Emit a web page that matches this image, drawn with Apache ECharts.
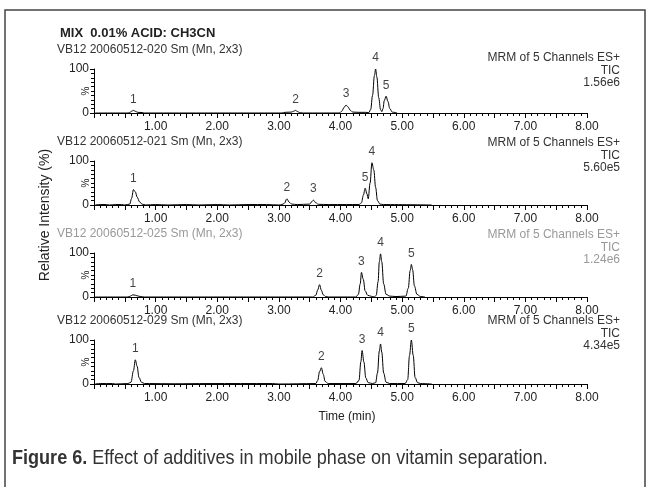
<!DOCTYPE html>
<html lang="en">
<head>
<meta charset="UTF-8">
<title>Figure 6</title>
<script src="https://cdn.jsdelivr.net/npm/echarts@6/dist/echarts.min.js"></script>
<style>
  html, body { margin: 0; background: #fff; }
  #main { width: 648px; height: 487px; }
</style>
</head>
<body>
<div id="main"></div>
<script>
// chromatogram traces, [time (min), relative intensity (%)]
var trace1 = [[0.02,0],[0.55,0],[0.58,1],[0.61,4],[0.64,6],[0.67,4],[0.71,1.5],[0.78,1],[0.82,0],
  [3.05,0],[3.1,1.5],[3.2,2],[3.24,4],[3.27,6],[3.3,3.5],[3.34,0.5],[3.4,0],
  [3.98,0],[4.02,4],[4.06,13],[4.09,18],[4.12,14],[4.16,6],[4.2,2],[4.3,1.5],[4.4,1.5],[4.46,1],
  [4.49,8],[4.52,40],[4.55,85],[4.57,100],[4.59,82],[4.62,35],[4.65,8],[4.67,3],
  [4.69,10],[4.71,28],[4.74,38],[4.77,26],[4.8,10],[4.84,2],[4.92,0]];
var trace2 = [[0.02,0],[0.1,1],[0.2,1],[0.25,0],[0.35,1],[0.45,1],[0.5,0],
  [0.58,2],[0.61,15],[0.64,35],[0.67,30],[0.7,18],[0.74,7],[0.78,2],[0.84,0],
  [1.0,1],[1.2,0],[1.5,1],[1.7,0],[2.0,1],[2.2,0],[2.5,1],[2.8,1],[3.0,0],
  [3.05,1],[3.09,4],[3.13,14],[3.17,6],[3.21,2],[3.3,1],
  [3.5,2],[3.53,7],[3.56,11],[3.6,5],[3.64,1.5],[3.8,1],[4.1,1],
  [4.3,1],[4.34,5],[4.37,22],[4.4,38],[4.43,25],[4.45,14],[4.48,50],[4.51,96],[4.54,80],[4.57,40],[4.6,10],[4.64,2],[4.7,1],[5.48,0]];
var trace3 = [[0.02,0],[0.55,0],[0.59,2],[0.63,5],[0.67,4],[0.72,2],[0.78,0.5],[0.82,0],
  [3.55,0],[3.6,4],[3.63,16],[3.66,28],[3.69,15],[3.72,5],[3.76,1],[3.8,0],
  [4.25,0],[4.29,6],[4.32,30],[4.34,56],[4.37,40],[4.4,14],[4.44,4],[4.5,1.5],[4.55,0],
  [4.58,4],[4.61,35],[4.63,80],[4.65,98],[4.67,80],[4.7,30],[4.74,6],[4.8,2],[4.9,1],
  [5.06,2],[5.1,20],[5.13,60],[5.15,74],[5.17,62],[5.2,25],[5.24,6],[5.3,1],[5.37,0]];
var trace4 = [[0.02,0],[0.1,1],[0.3,1],[0.35,0],[0.55,1],[0.6,4],[0.64,30],[0.67,55],[0.7,40],[0.73,15],[0.77,4],[0.82,1],
  [0.9,1],[1.3,0.5],[1.85,1],[2.9,1],[3.0,0],
  [3.6,1],[3.63,8],[3.66,28],[3.69,37],[3.72,22],[3.75,6],[3.8,1],
  [4.25,1],[4.3,8],[4.33,50],[4.35,76],[4.38,50],[4.41,14],[4.45,3],[4.52,1],
  [4.57,3],[4.6,25],[4.63,75],[4.65,91],[4.67,72],[4.7,25],[4.74,4],[4.8,1],
  [5.05,1],[5.09,10],[5.12,65],[5.15,100],[5.18,65],[5.21,15],[5.25,3],[5.3,1],[5.48,0]];

// peak numbers placed over their apex
var peaks1 = [[0.64,6,'1'],[3.27,6,'2'],[4.09,18,'3'],[4.57,100,'4'],[4.74,38,'5']];
var peaks2 = [[0.64,35,'1'],[3.13,14,'2'],[3.56,11,'3'],[4.51,96,'4'],[4.4,38,'5']];
var peaks3 = [[0.63,5,'1'],[3.66,28,'2'],[4.34,56,'3'],[4.65,98,'4'],[5.15,74,'5']];
var peaks4 = [[0.67,55,'1'],[3.69,37,'2'],[4.35,76,'3'],[4.65,91,'4'],[5.15,100,'5']];

var runNames = ['VB12 20060512-020 Sm (Mn, 2x3)', 'VB12 20060512-021 Sm (Mn, 2x3)',
                'VB12 20060512-025 Sm (Mn, 2x3)', 'VB12 20060512-029 Sm (Mn, 2x3)'];
var scanNames = ['MRM of 5 Channels ES+', 'MRM of 5 Channels ES+', 'MRM of 5 Channels ES+', 'MRM of 5 Channels ES+'];
var scaleValues = ['1.56e6', '5.60e5', '1.24e6', '4.34e5'];

var traces = [trace1, trace2, trace3, trace4];
var peaks = [peaks1, peaks2, peaks3, peaks4];

// layout
var tops = [69, 161, 253, 340];
var plotH = 44;
var headColors = ['#333', '#333', '#999', '#333'];
var scanOffset = [55, 62, 62, 63];

var grids = [], xAxes = [], yAxes = [], series = [], graphics = [];

for (var i = 0; i < 4; i++) {
  grids.push({ left: 94, right: 61, top: tops[i], height: plotH });
  xAxes.push({
    type: 'value', gridIndex: i, min: 0, max: 8, interval: 0.5,
    axisLine: { show: true, lineStyle: { color: '#000', width: 1 } },
    axisTick: { show: true, length: 5, lineStyle: { color: '#000' } },
    minorTick: { show: true, splitNumber: 5, length: 3, lineStyle: { color: '#000' } },
    splitLine: { show: false },
    axisLabel: {
      margin: 8, color: '#222', fontSize: 12, fontFamily: 'Liberation Sans',
      formatter: function (v) { return (v > 0 && v % 1 === 0) ? v.toFixed(2) : ''; }
    }
  });
  yAxes.push({
    type: 'value', gridIndex: i, min: 0, max: 100, interval: 100,
    axisLine: { show: true, lineStyle: { color: '#000', width: 1 } },
    axisTick: { show: true, length: 4, lineStyle: { color: '#000' } },
    minorTick: { show: true, splitNumber: 10, length: 3, lineStyle: { color: '#000' } },
    splitLine: { show: false },
    axisLabel: { margin: 5, color: '#222', fontSize: 12, fontFamily: 'Liberation Sans' }
  });
  series.push({
    type: 'line', xAxisIndex: i, yAxisIndex: i, data: traces[i],
    showSymbol: false, smooth: 0.35, smoothMonotone: 'x',
    lineStyle: { color: '#000', width: 1 }
  });
  series.push({
    type: 'scatter', xAxisIndex: i, yAxisIndex: i, symbolSize: 0,
    data: peaks[i].map(function (p) { return { value: [p[0], p[1]], name: p[2] }; }),
    label: { show: true, position: 'top', distance: 5, formatter: '{b}',
             color: '#111', fontSize: 12, fontFamily: 'Liberation Sans' }
  });

  var base = tops[i] + plotH;
  // small "%" beside each intensity axis
  graphics.push({ type: 'text', x: 86, y: tops[i] + plotH / 2, rotation: Math.PI / 2,
    style: { text: '%', fill: '#222', font: '10px "Liberation Sans"',
             textAlign: 'center', textVerticalAlign: 'middle' } });
  graphics.push({ type: 'text', left: 57, top: base - 62 - 7,
    style: { text: runNames[i], fill: headColors[i], font: '12px "Liberation Sans"' } });
  var sy = base - scanOffset[i];
  [scanNames[i], 'TIC', scaleValues[i]].forEach(function (t, k) {
    graphics.push({ type: 'text', x: 620, y: sy + k * 12.5,
      style: { text: t, fill: headColors[i], font: '12px "Liberation Sans"',
               textAlign: 'right', textVerticalAlign: 'middle' } });
  });
}

graphics.push({ type: 'rect', shape: { x: 5, y: 10, width: 640, height: 520 },
  style: { fill: 'none', stroke: '#444', lineWidth: 1.5 } });
graphics.push({ type: 'text', x: 60, y: 33,
  style: { text: 'MIX  0.01% ACID: CH3CN', fill: '#222', font: 'bold 13px "Liberation Sans"',
           textVerticalAlign: 'middle' } });
graphics.push({ type: 'text', x: 45, y: 215, rotation: Math.PI / 2,
  style: { text: 'Relative Intensity (%)', fill: '#222', font: '14px "Liberation Sans"',
           textAlign: 'center', textVerticalAlign: 'middle' } });
graphics.push({ type: 'text', x: 347, y: 417,
  style: { text: 'Time (min)', fill: '#222', font: '12px "Liberation Sans"',
           textAlign: 'center', textVerticalAlign: 'middle' } });
// caption in a condensed face: squeeze a regular sans horizontally
graphics.push({ type: 'text', x: 12, y: 458, scaleX: 0.86,
  style: { text: '{b|Figure 6.} Effect of additives in mobile phase on vitamin separation.',
           fill: '#333', font: '21px "Liberation Sans"', textVerticalAlign: 'middle',
           rich: { b: { fontWeight: 'bold', fontSize: 21, fontFamily: 'Liberation Sans', fill: '#333' } } } });

var myChart = echarts.init(document.getElementById('main'));
myChart.setOption({
  animation: false,
  grid: grids,
  xAxis: xAxes,
  yAxis: yAxes,
  series: series,
  graphic: graphics
});
</script>
</body>
</html>
